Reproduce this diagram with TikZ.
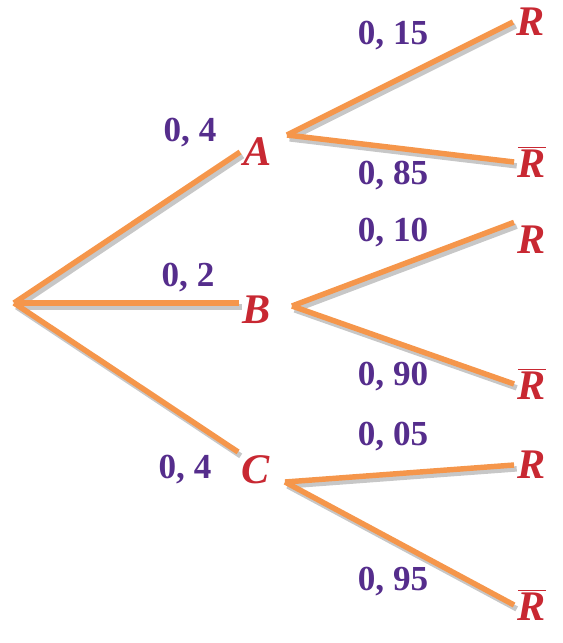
\documentclass[tikz,border=0pt]{standalone}
\usepackage{fontspec}
\setmainfont{Liberation Serif}
\usepackage{xcolor}
\usepackage{tikz}
\usetikzlibrary{positioning}

\definecolor{branchorange}{RGB}{245,150,75}
\definecolor{probpurple}{RGB}{85,45,140}
\definecolor{eventred}{RGB}{200,40,50}

\newcommand{\evt}[1]{\bfseries\itshape #1}
\newcommand{\nevt}[1]{$\overline{\mbox{\bfseries\itshape #1}}$}

\begin{document}
\begin{tikzpicture}[x=0.02cm, y=-0.02cm, every node/.style={font=\bfseries}]
    % Styles
    \tikzstyle{branch} = [line width=3.1pt, draw=branchorange,
        preaction={draw=black!22, line width=3.1pt, transform canvas={shift={(1.5pt,-2.2pt)}}}]
    \tikzstyle{event} = [text=eventred, font=\fontsize{24}{28}\selectfont, inner sep=2pt]
    \tikzstyle{prob} = [text=probpurple, font=\fontsize{20}{24}\selectfont\bfseries]

    \useasboundingbox (0,0) rectangle (563,643);

    % Nodes
    \coordinate (root) at (14,303);
    \node[event] (A) at (258,152) {\evt{A}};
    \node[event] (B) at (257,310) {\evt{B}};
    \node[event] (C) at (256,470) {\evt{C}};

    \node[event] (AR) at (531,22) {\evt{R}};
    \node[event] (ARb) at (532,162) {\nevt{R}};
    \node[event] (BR) at (532,240) {\evt{R}};
    \node[event] (BRb) at (532,384) {\nevt{R}};
    \node[event] (CR) at (532,465) {\evt{R}};
    \node[event] (CRb) at (532,605) {\nevt{R}};

    \coordinate (Aout) at (287,135);
    \coordinate (Bout) at (292,306);
    \coordinate (Cout) at (285,482);

    % Probabilities
    \node[prob] (pA) at (190,133) {0, 4};
    \node[prob] (pB) at (188,278) {0, 2};
    \node[prob] (pC) at (185,470) {0, 4};
    \node[prob] (pAR) at (393,36) {0, 15};
    \node[prob] (pARb) at (393,176) {0, 85};
    \node[prob] (pBR) at (393,233) {0, 10};
    \node[prob] (pBRb) at (393,377) {0, 90};
    \node[prob] (pCR) at (393,437) {0, 05};
    \node[prob] (pCRb) at (393,582) {0, 95};

    % Connections
    \draw[branch] (root) -- (A.west);
    \draw[branch] (root) -- (root -| B.west);
    \draw[branch] (root) -- (C.north west);

    \draw[branch] (Aout) -- (AR.west);
    \draw[branch] (Aout) -- (ARb.west);
    \draw[branch] (Bout) -- (BR.north west);
    \draw[branch] (Bout) -- (BRb.west);
    \draw[branch] (Cout) -- (CR.west);
    \draw[branch] (Cout) -- (CRb.west);
\end{tikzpicture}
\end{document}
